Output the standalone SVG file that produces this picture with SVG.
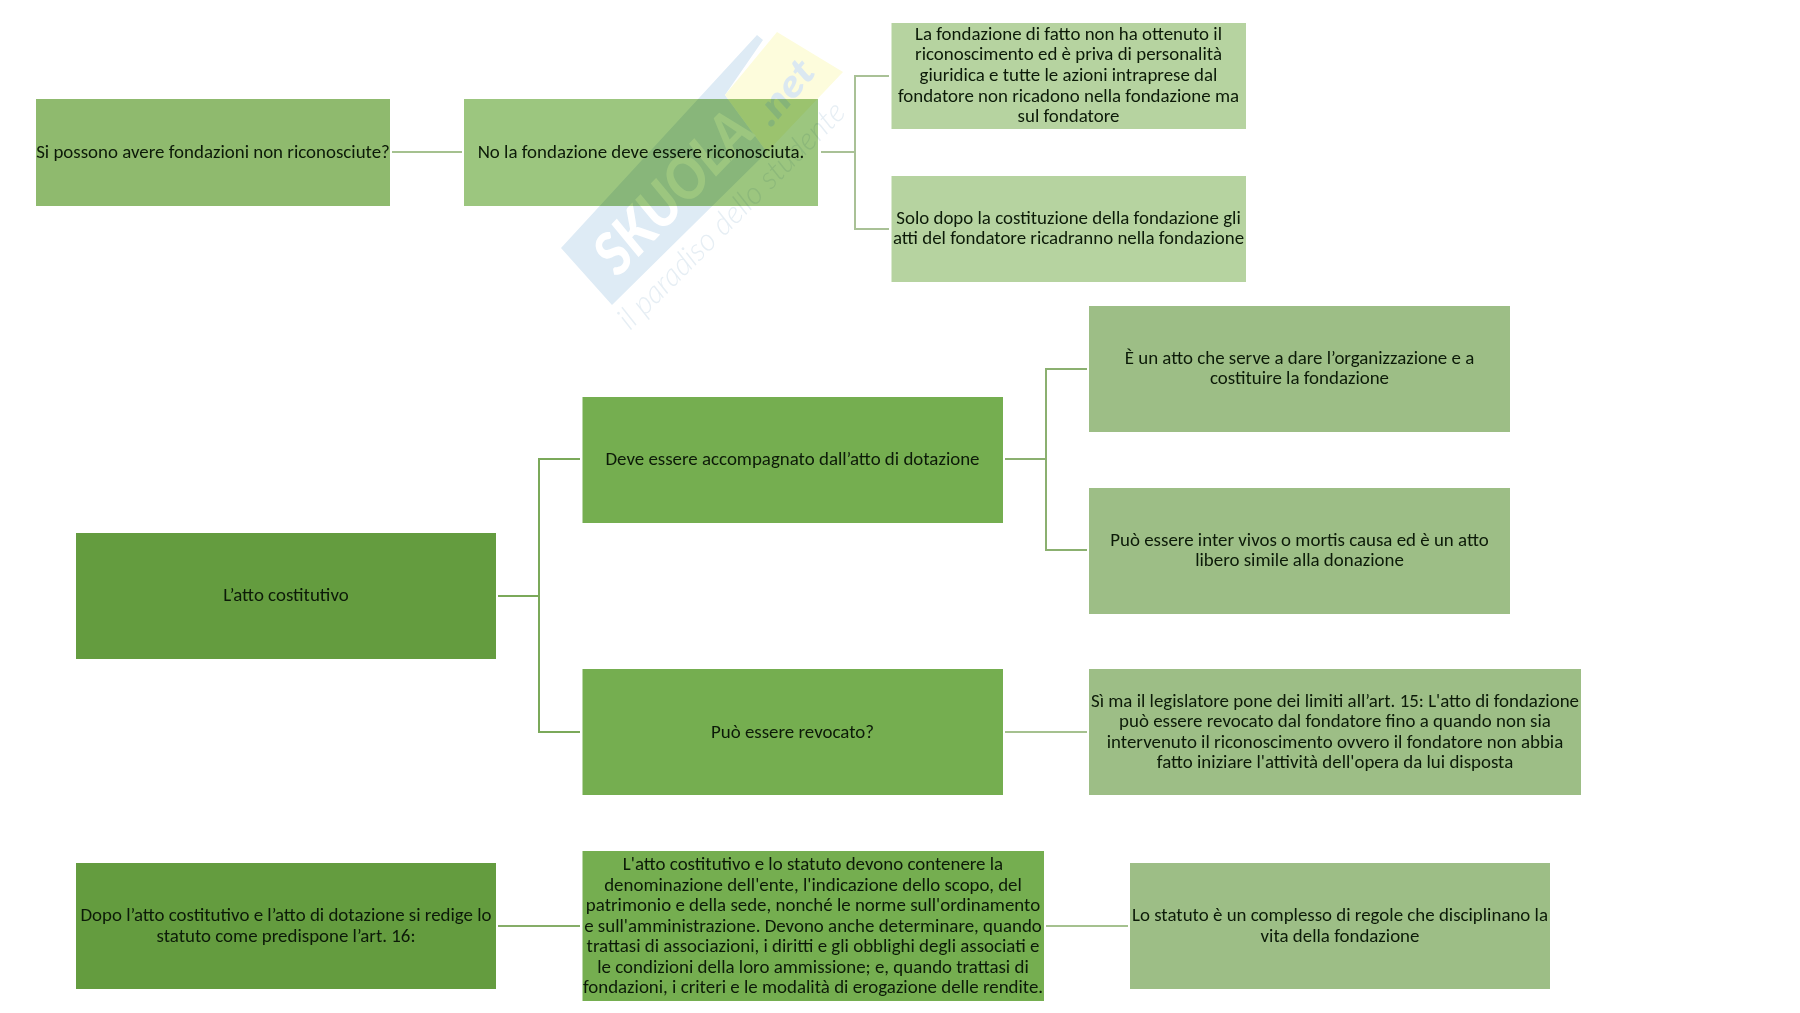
<svg xmlns="http://www.w3.org/2000/svg" width="1800" height="1013" viewBox="0 0 1800 1013">
<style>
text{font-family:"Carlito","Lato","Liberation Sans",sans-serif;font-size:18.9px;fill:#0c1a08;text-anchor:middle}
.c path{fill:none;stroke-width:2}
.d1{fill:#649c3f}.d2{fill:#75ae50}.l3{fill:#9dbe86}.a{fill:#8fba6e}.b{fill:#9cc67f}.e{fill:#b6d3a0}
#watermark{mix-blend-mode:multiply;isolation:isolate}
#watermark text{text-anchor:start;font-family:"Lato","Liberation Sans",sans-serif}
</style>
<rect width="1800" height="1013" fill="#fff"/>
<g id="connectors" class="c">
<path d="M392 152H462" stroke="#a5c18f"/>
<path d="M821 152H854M889 76H855V229H889" stroke="#a9c196"/>
<path d="M498 596H539M580 459H539V732H580" stroke="#7ba95a"/>
<path d="M1005 459H1046M1087 369H1046V550H1087" stroke="#8bb070"/>
<path d="M1005 732H1087" stroke="#a5c18f"/>
<path d="M498 926H580" stroke="#86ad68"/>
<path d="M1046 926H1128" stroke="#a5c18f"/>
</g>
<g id="n1"><rect class="a" x="36" y="99" width="354" height="107"/><text x="213" y="158">Si possono avere fondazioni non riconosciute?</text></g>
<g id="n2"><rect class="b" x="464" y="99" width="354" height="107"/><text x="641" y="158">No la fondazione deve essere riconosciuta.</text></g>
<g id="n3"><rect class="e" x="891.500" y="23" width="354.500" height="106"/><text x="1068.500" y="40">La fondazione di fatto non ha ottenuto il</text><text x="1068.500" y="60">riconoscimento ed è priva di personalità</text><text x="1068.500" y="81">giuridica e tutte le azioni intraprese dal</text><text x="1068.500" y="102">fondatore non ricadono nella fondazione ma</text><text x="1068.500" y="122">sul fondatore</text></g>
<g id="n4"><rect class="e" x="891.500" y="176" width="354.500" height="106"/><text x="1068.500" y="224">Solo dopo la costituzione della fondazione gli</text><text x="1068.500" y="244">atti del fondatore ricadranno nella fondazione</text></g>
<g id="n5"><rect class="l3" x="1089" y="306" width="421" height="126"/><text x="1299.500" y="364">È un atto che serve a dare l’organizzazione e a</text><text x="1299.500" y="384">costituire la fondazione</text></g>
<g id="n6"><rect class="l3" x="1089" y="488" width="421" height="126"/><text x="1299.500" y="546">Può essere inter vivos o mortis causa ed è un atto</text><text x="1299.500" y="566">libero simile alla donazione</text></g>
<g id="n7"><rect class="d2" x="582.500" y="397" width="420.500" height="126"/><text x="792.500" y="465">Deve essere accompagnato dall’atto di dotazione</text></g>
<g id="n8"><rect class="d2" x="582.500" y="669" width="420.500" height="126"/><text x="792.500" y="738">Può essere revocato?</text></g>
<g id="n9"><rect class="d1" x="76" y="533" width="420" height="126"/><text x="286" y="601">L’atto costitutivo</text></g>
<g id="n10"><rect class="l3" x="1089" y="669" width="492" height="126"/><text x="1335" y="707">Sì ma il legislatore pone dei limiti all’art. 15: L'atto di fondazione</text><text x="1335" y="727">può essere revocato dal fondatore fino a quando non sia</text><text x="1335" y="748">intervenuto il riconoscimento ovvero il fondatore non abbia</text><text x="1335" y="768">fatto iniziare l'attività dell'opera da lui disposta</text></g>
<g id="n11"><rect class="d1" x="76" y="863" width="420" height="126"/><text x="286" y="921">Dopo l’atto costitutivo e l’atto di dotazione si redige lo</text><text x="286" y="942">statuto come predispone l’art. 16:</text></g>
<g id="n12"><rect class="d2" x="582.500" y="851" width="461.500" height="150"/><text x="813" y="870">L'atto costitutivo e lo statuto devono contenere la</text><text x="813" y="891">denominazione dell'ente, l'indicazione dello scopo, del</text><text x="813" y="911">patrimonio e della sede, nonché le norme sull'ordinamento</text><text x="813" y="932">e sull'amministrazione. Devono anche determinare, quando</text><text x="813" y="952">trattasi di associazioni, i diritti e gli obblighi degli associati e</text><text x="813" y="973">le condizioni della loro ammissione; e, quando trattasi di</text><text x="813" y="993">fondazioni, i criteri e le modalità di erogazione delle rendite.</text></g>
<g id="n13"><rect class="l3" x="1130" y="863" width="420" height="126"/><text x="1340" y="921">Lo statuto è un complesso di regole che disciplinano la</text><text x="1340" y="942">vita della fondazione</text></g>
<g id="watermark">
<polygon points="561,248 757,35 763,40 725,95 767,152 612,305" fill="#deebf5"/>
<polygon points="777,32 843,72 767,152 725,95" fill="#fdfcdc"/>
<text transform="translate(618,278) rotate(-46)" textLength="200" lengthAdjust="spacingAndGlyphs" style="font-size:58px;font-weight:900;font-style:italic;fill:#fff">SKUOLA</text>
<text transform="translate(771,128) rotate(-50)" textLength="72" lengthAdjust="spacingAndGlyphs" style="font-size:38px;font-weight:900;font-style:italic;fill:#dbe8f1">.net</text>
<text transform="translate(630,331) rotate(-45)" textLength="307" lengthAdjust="spacingAndGlyphs" style="font-size:31px;font-style:italic;font-weight:300;fill:#e6eef4">il paradiso dello studente</text>
</g>
</svg>
